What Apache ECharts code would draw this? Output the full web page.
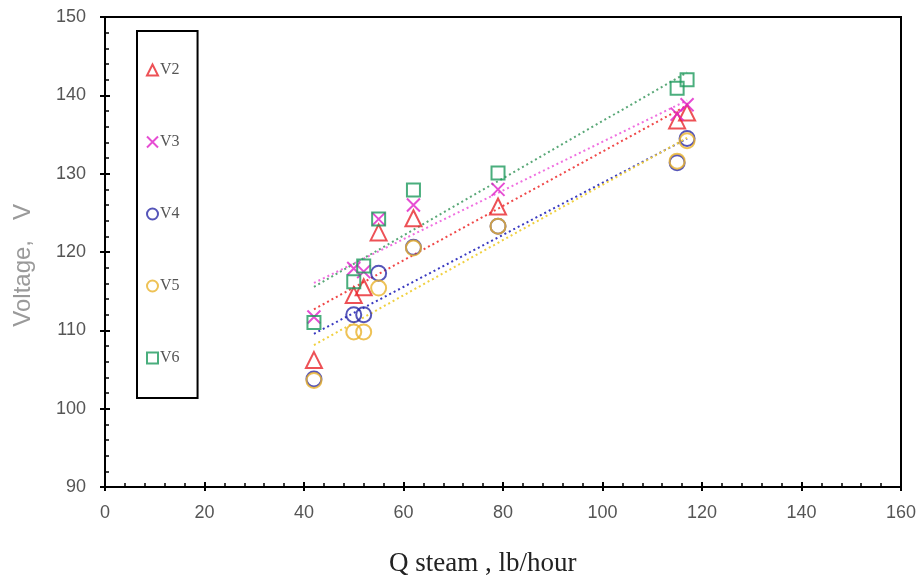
<!DOCTYPE html>
<html><head><meta charset="utf-8">
<script src="https://cdn.jsdelivr.net/npm/echarts@6/dist/echarts.min.js"></script>
<style>html,body{margin:0;padding:0;background:#fff}#c{width:919px;height:576px}</style>
</head><body><div id="c"></div>
<script>
const qSteam = [42, 50, 52, 55, 62, 79, 115, 117];
const v2 = [106.2, 114.5, 115.5, 122.5, 124.3, 125.8, 136.8, 137.8];
const v3 = [111.7, 117.9, 117.5, 124.2, 126.0, 128.0, 137.6, 138.8];
const v4 = [103.8, 112.0, 112.0, 117.3, 120.6, 123.3, 131.4, 134.5];
const v5 = [103.6, 109.8, 109.8, 115.4, 120.5, 123.3, 131.6, 134.2];
const v6 = [111.0, 116.2, 118.2, 124.2, 127.9, 130.1, 140.9, 142.0];
const seriesNames = ['V2', 'V3', 'V4', 'V5', 'V6'];
const xTicks = [0, 20, 40, 60, 80, 100, 120, 140, 160];
const yTicks = [90, 100, 110, 120, 130, 140, 150];

const values = [v2, v3, v4, v5, v6];
const markerColors = ['#e8262c', '#e020c8', '#2a2aa8', '#eab32c', '#1d9a5c'];
const lineColors = ['#f04848', '#f070e0', '#3a3ac0', '#f0d040', '#5aa878'];
const symbols = ['triangle', 'path://M0,0L10,10M10,0L0,10', 'circle', 'circle', 'rect'];
const sizes = [16, 13, 15, 15, 13];

function fit(xs, ys) {
  const n = xs.length;
  let sx = 0, sy = 0, sxx = 0, sxy = 0;
  for (let i = 0; i < n; i++) { sx += xs[i]; sy += ys[i]; sxx += xs[i]*xs[i]; sxy += xs[i]*ys[i]; }
  const b = (n*sxy - sx*sy) / (n*sxx - sx*sx);
  const a = (sy - b*sx) / n;
  const x0 = Math.min(...xs), x1 = Math.max(...xs);
  return [[x0, a + b*x0], [x1, a + b*x1]];
}

const series = [];
values.forEach((vals, i) => {
  series.push({
    name: seriesNames[i] + ' fit', type: 'line', xAxisIndex: 0, yAxisIndex: 0,
    data: fit(qSteam, vals), showSymbol: false, silent: true, z: 1,
    lineStyle: { color: lineColors[i], width: 2, type: [2, 3] }
  });
});
values.forEach((vals, i) => {
  series.push({
    name: seriesNames[i], type: 'scatter', xAxisIndex: 0, yAxisIndex: 0,
    data: qSteam.map((x, j) => [x, vals[j]]),
    symbol: symbols[i], symbolSize: sizes[i], z: 3,
    itemStyle: { color: 'rgba(255,255,255,0)', borderColor: markerColors[i], borderWidth: 2 }
  });
});

const axisCommon = {
  axisLine: { show: true, onZero: false, lineStyle: { color: '#000', width: 2 } },
  splitLine: { show: false }
};

const chart = echarts.init(document.getElementById('c'), null, { renderer: 'canvas' });
chart.setOption({
  animation: false,
  backgroundColor: '#fff',
  grid: { left: 105, right: 18, top: 17, bottom: 89, containLabel: false, outerBoundsMode: 'none',
    show: true, borderColor: '#000', borderWidth: 2, backgroundColor: 'transparent' },
  legend: {
    data: seriesNames, orient: 'vertical', left: 137, top: 31,
    itemWidth: 11, itemHeight: 11, itemGap: 56,
    padding: [31, 18, 32, 9],
    borderColor: '#000', borderWidth: 2, backgroundColor: '#fff',
    textStyle: { fontFamily: 'Liberation Serif', fontSize: 16, color: '#555', padding: [0, 0, 0, -3] }
  },
  xAxis: [
    Object.assign({}, axisCommon, {
      type: 'value', min: 0, max: 160, interval: 20, position: 'bottom',
      name: 'Q steam , lb/hour      ', nameLocation: 'middle', nameGap: 63,
      nameTextStyle: { fontFamily: 'Liberation Serif', fontSize: 27, color: '#222' },
      axisTick: { show: true, inside: false, length: 4, lineStyle: { color: '#000', width: 2 } },
      axisLabel: { fontFamily: 'Liberation Sans', fontSize: 18, color: '#555', margin: 17,
        formatter: v => xTicks.includes(v) ? String(v) : '' }
    }),
    Object.assign({}, axisCommon, {
      type: 'value', min: 0, max: 160, interval: 20, position: 'bottom', offset: 0,
      axisTick: { show: true, inside: true, length: 5, lineStyle: { color: '#000', width: 2 } },
      minorTick: { show: true, splitNumber: 5, length: 4, lineStyle: { color: '#000', width: 1.5 } },
      axisLabel: { show: false }
    })
  ],
  yAxis: [
    Object.assign({}, axisCommon, {
      type: 'value', min: 90, max: 150, interval: 10, position: 'left',
      name: 'Voltage,   V    ', nameLocation: 'middle', nameGap: 70,
      nameTextStyle: { fontFamily: 'Liberation Sans', fontSize: 24, color: '#9a9a9a' },
      axisTick: { show: true, inside: false, length: 5, lineStyle: { color: '#000', width: 2 } },
      axisLabel: { fontFamily: 'Liberation Sans', fontSize: 18, color: '#555', margin: 19,
        formatter: v => yTicks.includes(v) ? String(v) : '' }
    }),
    Object.assign({}, axisCommon, {
      type: 'value', min: 90, max: 150, interval: 10, position: 'left', offset: 0,
      axisTick: { show: true, inside: true, length: 5, lineStyle: { color: '#000', width: 2 } },
      minorTick: { show: true, splitNumber: 5, length: 4, lineStyle: { color: '#000', width: 1.5 } },
      axisLabel: { show: false }
    })
  ],
  series: series
});
</script></body></html>
